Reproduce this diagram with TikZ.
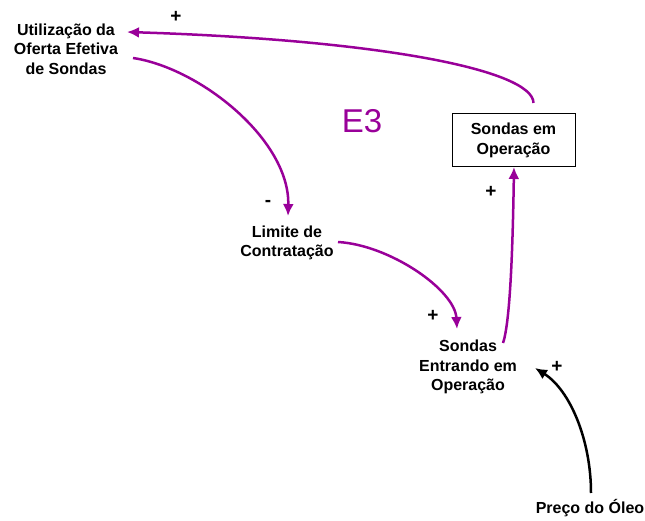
\documentclass[tikz,border=0pt]{standalone}
\usepackage{fontspec}
\setmainfont{Liberation Sans}
\usetikzlibrary{arrows.meta}
\definecolor{loopc}{RGB}{153,0,153}
\begin{document}
\begin{tikzpicture}[x=1pt,y=-1pt,
  lbl/.style={align=center,font=\fontsize{16}{19.5}\selectfont\bfseries,inner sep=2pt},
  sgn/.style={font=\fontsize{19}{20}\selectfont\bfseries,inner sep=0pt},
  stockbox/.style={lbl,draw=black,line width=1pt,minimum width=123pt,minimum height=53pt},
  parr/.style={draw=loopc,line width=2.5pt,-{Latex[length=12pt,width=11pt]}},
  karr/.style={draw=black,line width=2.5pt,-{Latex[length=12pt,width=11pt]}}]
\useasboundingbox (0,0) rectangle (645,521);
\node[lbl] (util) at (66,49) {Utilização da\\Oferta Efetiva\\de Sondas};
\node[lbl] (limite) at (287,243) {Limite de\\Contratação};
\node[lbl] (entrando) at (468,367) {Sondas\\Entrando em\\Operação};
\node[stockbox] (ops) at (513.5,140.5) {Sondas em\\Operação};
\node[lbl] (preco) at (590,508) {Preço do Óleo};
\node[font=\fontsize{33}{36}\selectfont,text=loopc,inner sep=0pt] (e3) at (362,121) {E3};
\draw[parr] ([shift={(20,-37.5)}]ops.center) .. controls (533,70) and (380,40) .. ([shift={(61,-17)}]util.center);
\draw[parr] ([shift={(67,9)}]util.center) .. controls (200,68) and (290,140) .. ([shift={(1,-27)}]limite.center);
\draw[parr] ([shift={(51,-1)}]limite.center) .. controls (390,245) and (455,290) .. ([shift={(-11,-38)}]entrando.center);
\draw[parr] ([shift={(35,-24)}]entrando.center) .. controls (511,320) and (513,230) .. ([shift={(0.5,26.5)}]ops.center);
\draw[karr] ([shift={(1,-15)}]preco.center) .. controls (591,440) and (570,390) .. ([shift={(67,1)}]entrando.center);
\node[sgn] (s1) at (176,17) {+};
\node[sgn] (s2) at (268,203) {-};
\node[sgn] (s3) at (433,316) {+};
\node[sgn] (s4) at (491,192) {+};
\node[sgn] (s5) at (557,367) {+};
\end{tikzpicture}
\end{document}
